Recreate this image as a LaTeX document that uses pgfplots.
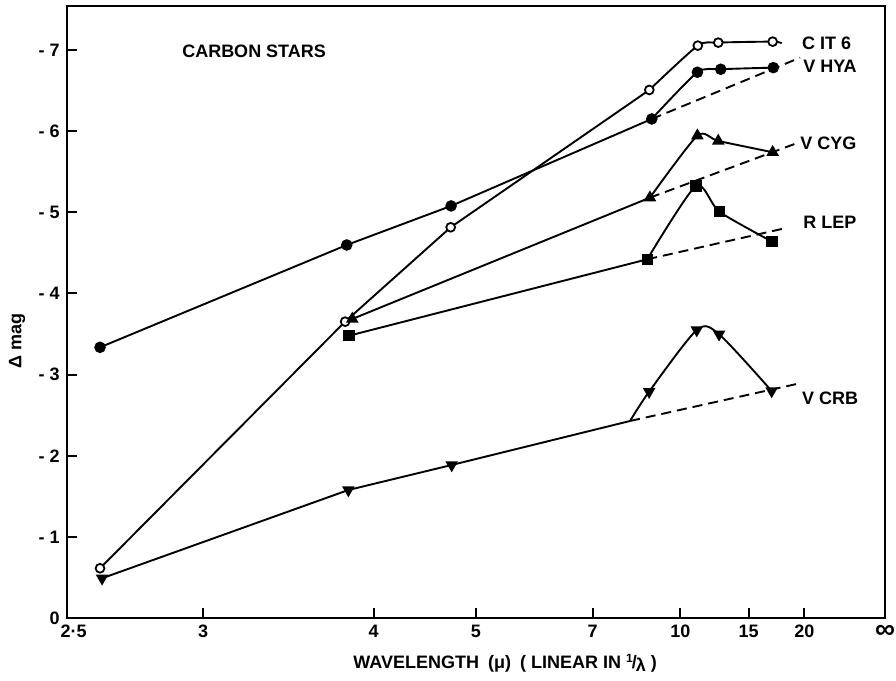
\documentclass[border=0pt]{standalone}
\usepackage{fontspec}
\setmainfont{Liberation Sans}
\usepackage{pgfplots}
\pgfplotsset{compat=1.18}
\begin{document}
\begin{tikzpicture}
\useasboundingbox (-33.35pt,-31.35pt) rectangle (414.65pt,309.15pt);
\begin{axis}[
  scale only axis, width=409.15pt, height=306.15pt,
  x dir=reverse, xmin=0, xmax=0.4,
  y dir=reverse, ymin=-7.54, ymax=0,
  axis line style={line width=1pt},
  xtick={0.4,0.333333,0.25,0.2,0.142857,0.1,0.066667,0.0394,0},
  xticklabels={{\makebox[0pt][l]{\kern-3pt 2·5}},3,4,5,7,10,15,20,{\raisebox{1pt}{\fontsize{14}{14}\selectfont ∞}}},
  ytick={0,-1,-2,-3,-4,-5,-6,-7},
  yticklabels={0,- 1,- 2,- 3,- 4,- 5,- 6,- 7},
  tick align=inside, xtick pos=left, ytick pos=left,
  major tick length=5pt,
  tick style={line width=1pt, black},
  tick label style={font=\fontsize{9}{10}\selectfont\bfseries},
  clip=false,
  every axis plot/.append style={line width=0.95pt, black},
]
% C IT 6
\addplot[no marks] coordinates {(0.3837,-0.616)(0.2639,-3.653)(0.2123,-4.815)(0.1152,-6.506)};
\addplot[no marks, smooth, tension=0.4] coordinates {(0.1152,-6.506)(0.0915,-7.052)(0.0815,-7.089)(0.0549,-7.101)(0.0505,-7.081)};
% V HYA
\addplot[no marks] coordinates {(0.3837,-3.337)(0.2631,-4.597)(0.2121,-5.078)(0.1140,-6.149)};
\addplot[no marks, smooth, tension=0.4] coordinates {(0.1140,-6.149)(0.0917,-6.724)(0.0803,-6.761)(0.0546,-6.781)};
\addplot[no marks, dash pattern=on 5pt off 3pt] coordinates {(0.1140,-6.149)(0.0415,-6.904)};
% V CYG
\addplot[no marks] coordinates {(0.2604,-3.686)(0.1149,-5.180)};
\addplot[no marks, smooth, tension=0.4] coordinates {(0.1149,-5.180)(0.0917,-5.943)(0.0815,-5.878)(0.0549,-5.739)};
\addplot[no marks, dash pattern=on 5pt off 3pt] coordinates {(0.1149,-5.180)(0.0432,-5.850)};
% R LEP
\addplot[no marks] coordinates {(0.2620,-3.480)(0.1162,-4.421)};
\addplot[no marks, smooth, tension=0.4] coordinates {(0.1162,-4.421)(0.0924,-5.324)(0.0810,-5.007)(0.0552,-4.638)};
\addplot[no marks, dash pattern=on 5pt off 3pt] coordinates {(0.1162,-4.421)(0.0489,-4.803)};
% V CRB
\addplot[no marks] coordinates {(0.3827,-0.493)(0.2623,-1.580)(0.2118,-1.888)(0.1246,-2.430)};
\addplot[no marks, smooth, tension=0.45] coordinates {(0.1246,-2.430)(0.1153,-2.791)(0.0920,-3.550)(0.0811,-3.498)(0.0554,-2.799)};
\addplot[no marks, dash pattern=on 5pt off 3pt] coordinates {(0.1246,-2.430)(0.0432,-2.885)};
% marks
\addplot[only marks, mark=*, mark size=2.2pt, mark options={fill=white, draw=black, line width=0.9pt}] coordinates {(0.3837,-0.616)(0.2639,-3.653)(0.2123,-4.815)(0.1152,-6.506)(0.0915,-7.052)(0.0815,-7.089)(0.0549,-7.101)};
\addplot[only marks, mark=*, mark size=2.4pt] coordinates {(0.3837,-3.337)(0.2631,-4.597)(0.2121,-5.078)(0.1140,-6.149)(0.0917,-6.724)(0.0803,-6.761)(0.0546,-6.781)};
\addplot[only marks, mark=triangle*, mark size=2.7pt] coordinates {(0.2604,-3.686)(0.1149,-5.180)(0.0917,-5.943)(0.0815,-5.878)(0.0549,-5.739)};
\addplot[only marks, mark=square*, mark size=2.4pt] coordinates {(0.2620,-3.480)(0.1162,-4.421)(0.0924,-5.324)(0.0810,-5.007)(0.0552,-4.638)};
\addplot[only marks, mark=triangle*, mark size=2.7pt, mark options={rotate=180}] coordinates {(0.3827,-0.493)(0.2623,-1.580)(0.2118,-1.888)(0.1153,-2.791)(0.0920,-3.550)(0.0811,-3.498)(0.0554,-2.799)};
% labels
\tikzset{lbl/.style={font=\fontsize{9}{10}\selectfont\bfseries, inner sep=0pt, anchor=west}}
\node[lbl] at (axis cs:0.0407,-7.085) {C IT 6};
\node[lbl] at (axis cs:0.0401,-6.793) {V HYA};
\node[lbl] at (axis cs:0.0415,-5.853) {V CYG};
\node[lbl] at (axis cs:0.0401,-4.880) {R LEP};
\node[lbl] at (axis cs:0.0407,-2.713) {V CRB};
\node[lbl] at (axis cs:0.3437,-6.978) {CARBON STARS};
\node[font=\fontsize{9}{10}\selectfont\bfseries, inner sep=0pt, rotate=90] at (axis cs:0.4242,-3.415) {Δ mag};
\node[font=\fontsize{9}{10}\selectfont\bfseries, inner sep=0pt] at (axis cs:0.1857,0.55) {WAVELENGTH\enspace(μ)\enspace( LINEAR IN \raisebox{0.6ex}{\fontsize{6}{6}\selectfont 1}\kern-0.5pt/\kern-0.5pt\raisebox{-0.4ex}{λ} )};
\end{axis}
\end{tikzpicture}
\end{document}
